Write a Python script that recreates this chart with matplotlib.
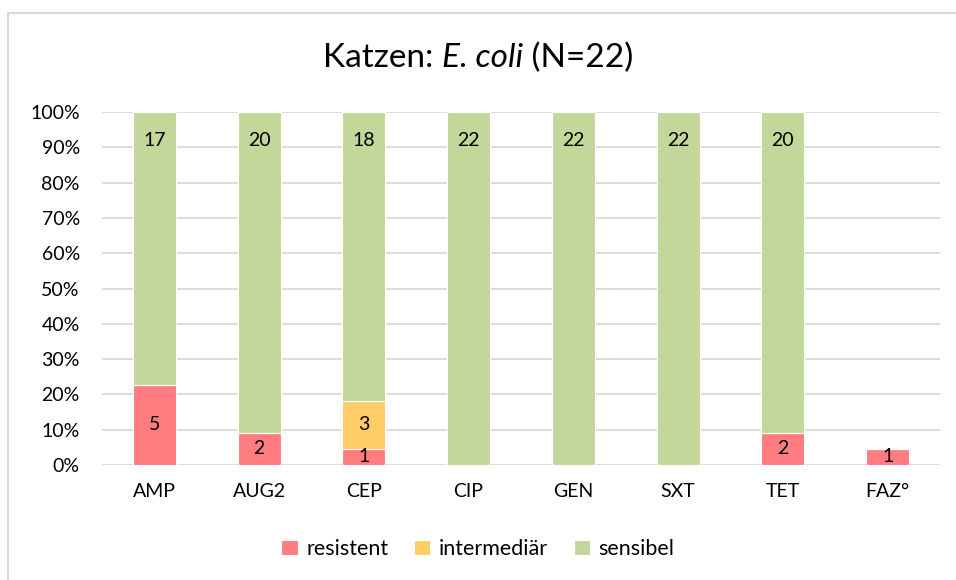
import numpy as np
import matplotlib.pyplot as plt
from matplotlib.patches import Rectangle
from matplotlib.ticker import PercentFormatter

plt.rcParams['font.family'] = ['Lato', 'DejaVu Sans']

categories = ["AMP", "AUG2", "CEP", "CIP", "GEN", "SXT", "TET", "FAZ°"]
resistent = np.array([5, 2, 1, 0, 0, 0, 2, 1])
intermediaer = np.array([0, 0, 3, 0, 0, 0, 0, 0])
sensibel = np.array([17, 20, 18, 22, 22, 22, 20, 0])
n_total = 22

c_res = "#ff7c80"
c_int = "#ffcc66"
c_sen = "#c4d79b"

fig = plt.figure(figsize=(9.56, 5.80), dpi=100)
fig.patches.append(Rectangle((8 / 956, -0.05), 1.2, (580 - 13) / 580 + 0.05,
                             transform=fig.transFigure, fill=False,
                             edgecolor="#d9d9d9", lw=1.5))

ax = fig.add_axes([102 / 956, 115 / 580, (940 - 102) / 956, (465 - 112) / 580])

x = np.arange(len(categories))
r = resistent / n_total
i = intermediaer / n_total
s = sensibel / n_total
w = 0.41

b1 = ax.bar(x, r, w, color=c_res, edgecolor="white", lw=0.8, label="resistent", zorder=3)
b2 = ax.bar(x, i, w, bottom=r, color=c_int, edgecolor="white", lw=0.8, label="intermediär", zorder=3)
b3 = ax.bar(x, s, w, bottom=r + i, color=c_sen, edgecolor="white", lw=0.8, label="sensibel", zorder=3)

fs = 14
for k in range(len(categories)):
    if resistent[k] > 0:
        ax.text(x[k], r[k] / 2, str(resistent[k]), ha="center", va="center", fontsize=fs, zorder=4)
    if intermediaer[k] > 0:
        ax.text(x[k], r[k] + i[k] / 2, str(intermediaer[k]), ha="center", va="center", fontsize=fs, zorder=4)
    if sensibel[k] > 0:
        ax.text(x[k], r[k] + i[k] + s[k] - 0.08, str(sensibel[k]), ha="center", va="center", fontsize=fs, zorder=4)

ax.set_xlim(-0.5, len(categories) - 0.5)
ax.set_ylim(0, 1)
ax.set_yticks(np.arange(0, 1.01, 0.1))
ax.yaxis.set_major_formatter(PercentFormatter(1.0, decimals=0))
ax.set_xticks(x)
ax.set_xticklabels(categories)
ax.tick_params(length=0, labelsize=fs)
ax.tick_params(axis="x", pad=13)
ax.tick_params(axis="y", pad=16)
ax.grid(axis="y", color="#d9d9d9", lw=1.3, zorder=0)
for sp in ax.spines.values():
    sp.set_visible(False)

# title with italic species name, built from three pieces
parts = [("Katzen: ", "normal"), ("E. coli", "italic"), (" (N=22)", "normal")]
ty = 1 - 58 / 580
texts = [fig.text(0, ty, p, style=st, fontsize=24, va="center", ha="left") for p, st in parts]
fig.canvas.draw()
rend = fig.canvas.get_renderer()
widths = [t.get_window_extent(rend).width / fig.bbox.width for t in texts]
xpos = 0.5 - sum(widths) / 2
for t, wd in zip(texts, widths):
    t.set_x(xpos)
    xpos += wd

fig.legend(handles=[b1, b2, b3], loc="center", bbox_to_anchor=(0.5, 1 - 549 / 580),
           ncol=3, frameon=False, fontsize=15.5, handlelength=0.75, handleheight=0.75,
           handletextpad=0.4, columnspacing=1.2)

fig.savefig("out.png", dpi=100)
